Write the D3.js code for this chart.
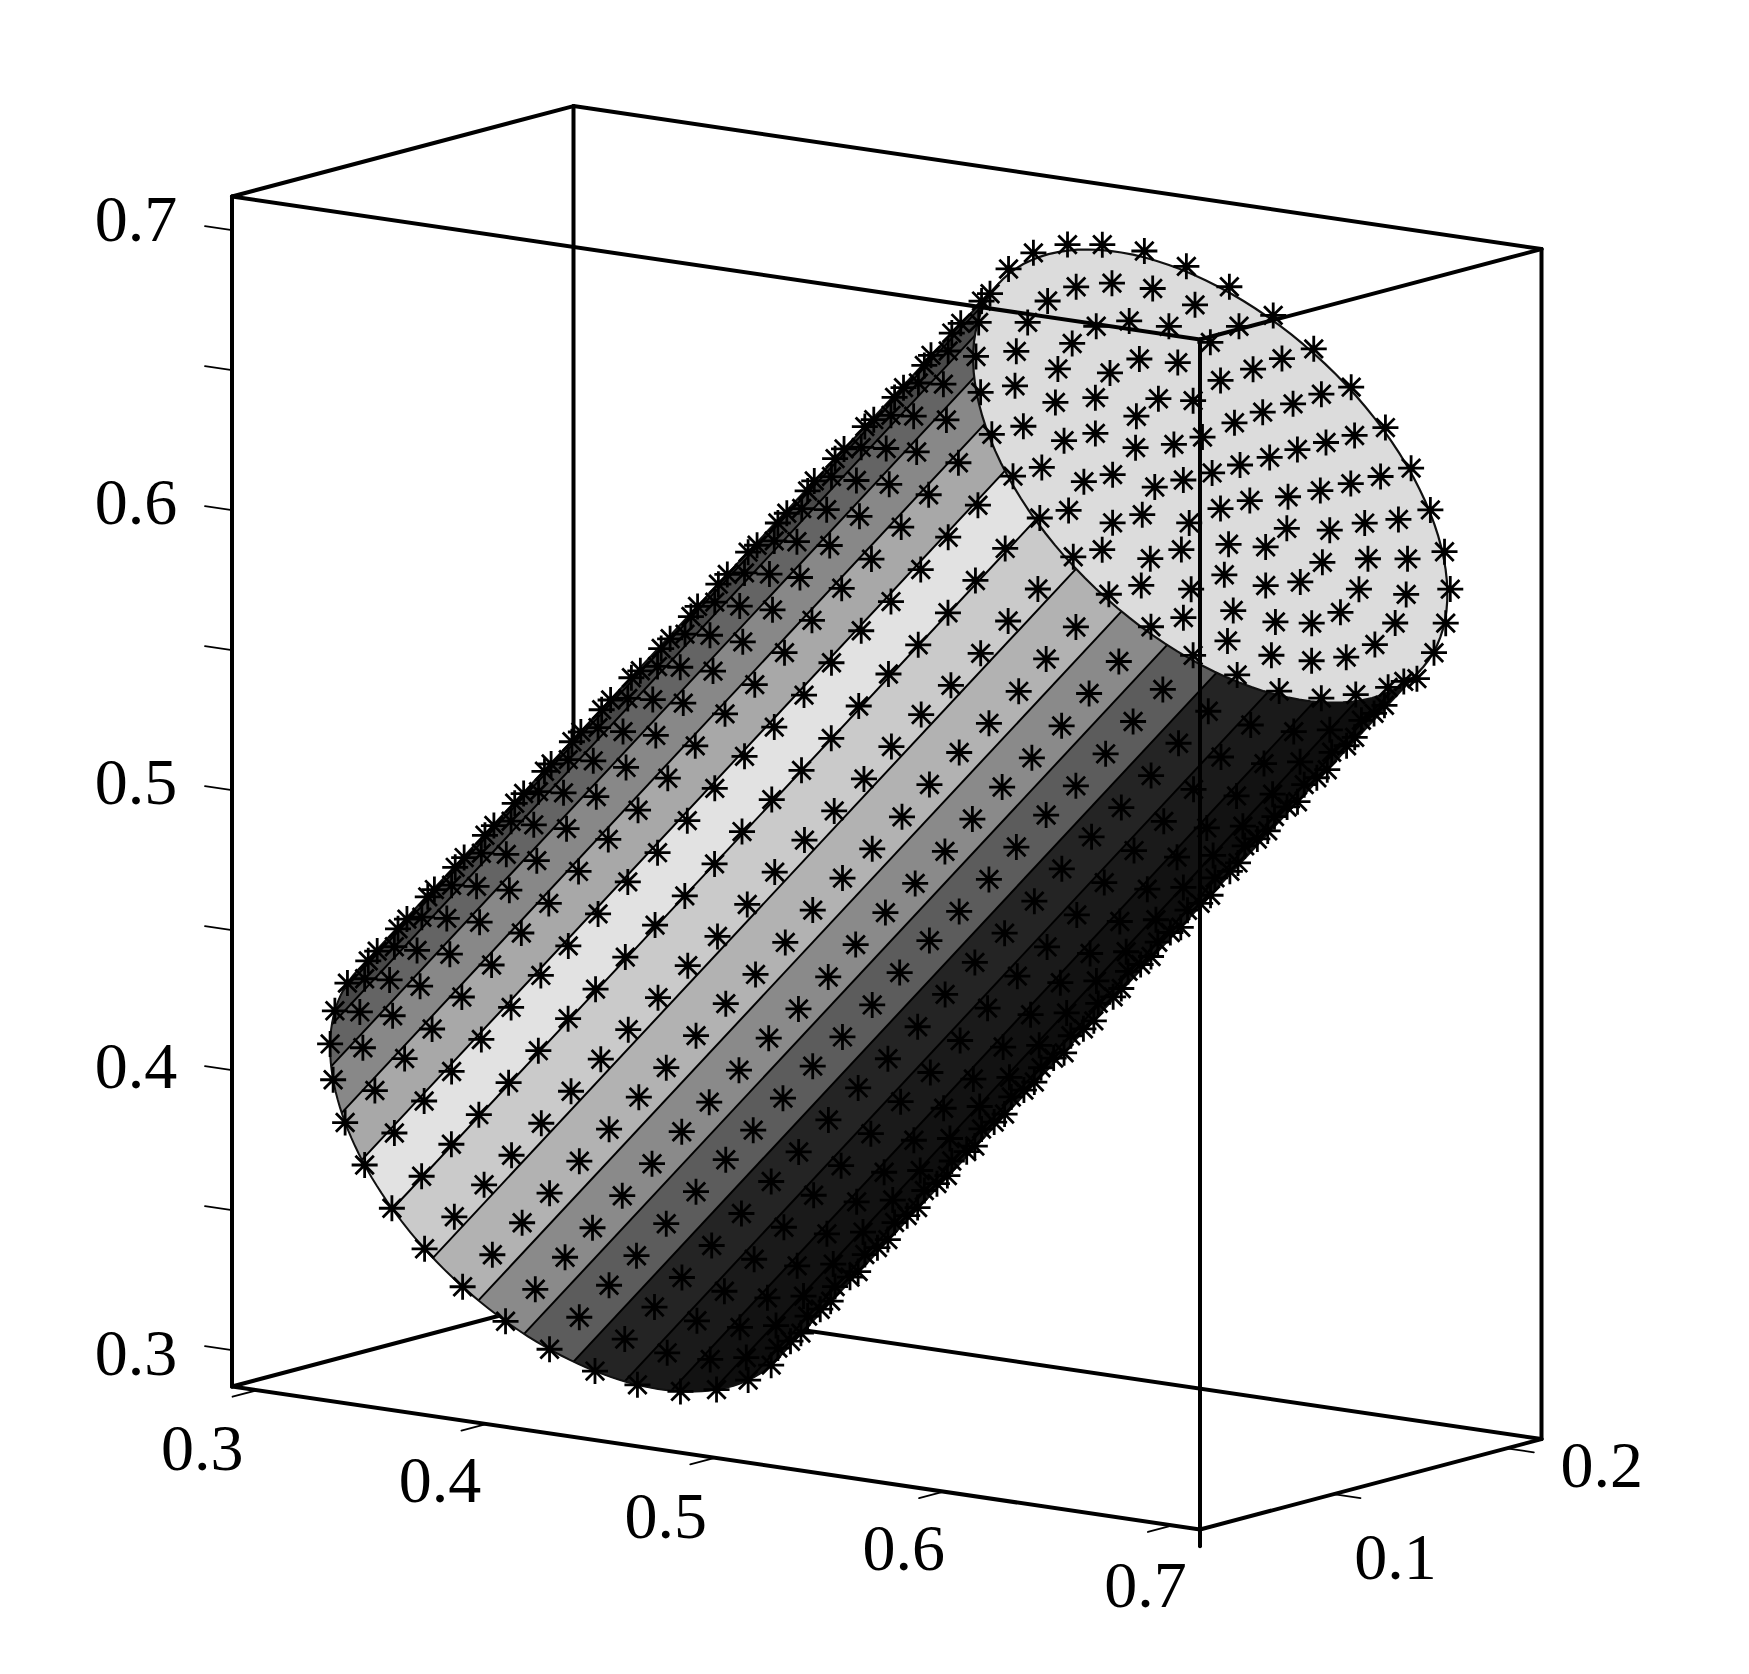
<!DOCTYPE html>
<html><head><meta charset="utf-8">
<script src="https://cdn.jsdelivr.net/npm/d3@7/dist/d3.min.js"></script>
<style>html,body{margin:0;background:#fff}svg{display:block}text{font-family:"Liberation Serif",serif;font-size:66px;fill:#000}</style>
</head><body><svg id="c" width="1749" height="1674"></svg>
<script>
// ---- data ----
const xTicks=[0.3,0.4,0.5,0.6,0.7];
const yTicks=[0.1,0.2];
const zTicks=[0.3,0.4,0.5,0.6,0.7];
const zMinorTicks=[0.35,0.45,0.55,0.65];
const xDomain=[0.289,0.712], yDomain=[0.023,0.22], zDomain=[0.287,0.712];
const radius=0.1, axisY=0.12;
// cylinder axis stations
const stationX=[.362,.375,.388,.400,.413,.426,.439,.451,.464,.477,.490,.503,.515,.528,.541,.554,.566,.579,.592,.605,.617,.630,.643];
const stationZ=[.359,.372,.385,.397,.410,.423,.436,.448,.461,.474,.486,.499,.512,.525,.537,.550,.563,.576,.588,.601,.614,.627,.639];
// mesh generators on the near side (degrees round the cylinder)
const nearAngles=[194,204.9,215.4,226,236.2,247.5,258.3,269.3,280,290.8,301.9,312.7,323.7,334.2,345.5,356,366.7,376.3,387.3];
// markers on the end disc: offset along the tilted in-plane axis and along y, as fractions of the radius
const discC=[-.984,-1.020,-1.017,-.982,-.916,-.816,-.696,-.544,-.377,-.195,-.008,.171,.348,.520,.667,.791,.891,.972,.976,.971,.950,.881,.778,.660,.510,.345,.168,-.012,-.197,-.376,-.546,-.686,-.812,-.909,
 -.824,-.849,-.827,-.766,-.662,-.537,-.372,-.198,-.009,.172,.352,.510,.643,.740,.801,.820,.799,.738,.640,.508,.344,.170,-.012,-.201,-.375,-.536,-.665,-.763,
 -.680,-.667,-.607,-.505,-.361,-.190,-.011,.169,.332,.470,.576,.645,.657,.616,.531,.408,.252,.079,-.105,-.280,-.433,-.557,-.639,
 -.513,-.461,-.351,-.189,-.013,.165,.324,.438,.490,.469,.387,.249,.078,-.103,-.276,-.411,-.490,
 -.344,-.302,-.177,-.011,.156,.274,.323,.276,.156,-.014,-.182,-.300,
 -.155,-.012,.132,.133,-.012,-.156,-.010];
const discS=[-.245,-.068,.126,.294,.475,.624,.760,.871,.949,.995,1.018,.999,.945,.866,.762,.620,.459,.285,.115,-.067,-.246,-.425,-.571,-.715,-.818,-.907,-.947,-.972,-.954,-.909,-.815,-.711,-.578,-.422,
 -.169,.019,.205,.383,.530,.667,.761,.826,.841,.822,.757,.662,.530,.376,.202,.019,-.161,-.336,-.498,-.629,-.719,-.782,-.806,-.784,-.728,-.626,-.498,-.341,
 -.023,.155,.328,.472,.584,.655,.678,.653,.581,.471,.320,.149,-.028,-.199,-.363,-.491,-.581,-.637,-.631,-.582,-.489,-.359,-.200,
 .070,.243,.387,.479,.515,.481,.387,.238,.062,-.118,-.280,-.399,-.465,-.467,-.405,-.279,-.121,
 .022,.183,.305,.353,.303,.186,.018,-.152,-.267,-.307,-.261,-.146,
 .100,.183,.105,-.065,-.144,-.064,.020];
// contour bands on the side of the cylinder
const bandEdges=[199.5,208,220,232.5,245,257,269.5,282.5,295,306.5,318.5,331,343,355,367,379.5];
const bandGrey=["#383838","#484848","#646464","#888888","#a8a8a8","#e2e2e2","#cacaca","#b2b2b2","#8a8a8a","#5c5c5c","#242424","#1a1a1a","#121212","#0e0e0e","#141414"];
const discGrey="#dcdcdc";

// ---- projection through scales ----
const sxX=d3.scaleLinear().domain(xDomain).range([232,1200]);
const syX=d3.scaleLinear().domain(xDomain).range([0,143]);
const sxY=d3.scaleLinear().domain(yDomain).range([0,341.5]);
const syY=d3.scaleLinear().domain(yDomain).range([0,-90.4]);
const syZ=d3.scaleLinear().domain(zDomain).range([1386.5,196.5]);
const P=(x,y,z)=>[sxX(x)+sxY(y), syZ(z)+syX(x)+syY(y)];
const rad=d=>d*Math.PI/180;
// point at axis station i with in-plane offsets (fractions of the radius)
const onDisc=(i,c,s)=>P(stationX[i]+c*radius*Math.SQRT1_2, axisY+s*radius, stationZ[i]-c*radius*Math.SQRT1_2);
const surf=(i,t)=>onDisc(i,Math.cos(rad(t)),Math.sin(rad(t)));
const last=stationX.length-1;
const line=d3.line();
const svg=d3.select("#c");
const [x0,x1]=xDomain,[y0,y1]=yDomain,[z0,z1]=zDomain;

// eight-armed marker as a d3 symbol type
const star={draw(ctx,size){const r=Math.sqrt(size);
  for(let a=0;a<4;a++){const q=a*Math.PI/4,dx=Math.sin(q)*r,dy=Math.cos(q)*r;
    ctx.moveTo(-dx,-dy);ctx.lineTo(dx,dy);}}};
const starPath=d3.symbol().type(star).size(13*13)();

// box edges behind the cylinder
const edge=(g,a,b,w=4)=>g.append("path").attr("d",line([a,b])).attr("stroke","#000").attr("stroke-width",w).attr("fill","none").attr("stroke-linecap","round");
const back=svg.append("g");
edge(back,P(x0,y1,z1),P(x1,y1,z1));
edge(back,P(x0,y1,z0),P(x1,y1,z0));
edge(back,P(x0,y1,z0),P(x0,y1,z1));
edge(back,P(x0,y0,z0),P(x0,y1,z0));
edge(back,P(x0,y0,z1),P(x0,y1,z1));

// cylinder side bands
const body=svg.append("g");
bandGrey.forEach((col,b)=>{
  const a0=bandEdges[b],a1=bandEdges[b+1];
  const arc=d3.range(a0,a1,2).concat([a1]);
  const pts=arc.map(t=>surf(0,t)).concat(arc.slice().reverse().map(t=>surf(last,t)));
  body.append("path").attr("d",line(pts)+"Z").attr("fill",col).attr("stroke",col).attr("stroke-width",.6);
});
// contour lines
bandEdges.slice(1,-1).forEach(t=>{
  body.append("path").attr("d",line([surf(0,t),surf(last,t)])).attr("stroke","#000").attr("stroke-width",2).attr("fill","none");
});
// silhouette and lower rim
const rim=d3.range(199.5,380,2).concat([379.5]);
body.append("path").attr("d",line(rim.map(t=>surf(0,t)))).attr("stroke","#111").attr("stroke-width",2).attr("fill","none");
[199.5,379.5].forEach(t=>body.append("path").attr("d",line([surf(0,t),surf(last,t)])).attr("stroke","#111").attr("stroke-width",2));
// end disc
const discEdge=d3.range(0,360,3).map(t=>surf(last,t));
body.append("path").attr("d",line(discEdge)+"Z").attr("fill",discGrey).attr("stroke","#111").attr("stroke-width",2.2);

// markers
const marks=[];
stationX.forEach((_,i)=>{ if(i<last) nearAngles.forEach(t=>marks.push(surf(i,t))); });
discC.forEach((c,k)=>marks.push(onDisc(last,c,discS[k])));
svg.append("g").selectAll("path").data(marks).join("path")
  .attr("d",starPath).attr("transform",d=>`translate(${d[0]},${d[1]})`)
  .attr("stroke","#000").attr("stroke-width",2.8).attr("fill","none");

// box edges in front
const front=svg.append("g");
edge(front,P(x0,y0,z1),P(x1,y0,z1));
edge(front,P(x1,y0,z1),P(x1,y1,z1));
edge(front,P(x0,y0,z0),P(x1,y0,z0));
edge(front,P(x1,y0,z0),P(x1,y1,z0));
edge(front,P(x0,y0,z0),P(x0,y0,z1));
edge(front,P(x1,y0,z1),P(x1,y0,z0-0.006));
edge(front,P(x1,y1,z1),P(x1,y1,z0));

// ticks
const ticks=svg.append("g");
const tk=(a,b)=>edge(ticks,a,b,1.8);
const zTickLen=0.0118, xTickLen=0.0142, yTickLen=0.0118;
zTicks.concat(zMinorTicks).forEach(z=>tk(P(x0,y0,z),P(x0-zTickLen,y0,z)));
xTicks.forEach(x=>tk(P(x,y0,z0),P(x,y0-xTickLen,z0)));
yTicks.forEach(y=>tk(P(x1,y,z0),P(x1+yTickLen,y,z0)));

// labels
const labels=svg.append("g");
const put=(p,dx,dy,s)=>labels.append("text").attr("x",p[0]+dx).attr("y",p[1]+dy).attr("text-anchor","middle").text(s);
const zNudge=[25,18,14,14,11], xNudge=[[-55,80],[-46,78],[-49,80],[-40,78],[-27,82]], yNudge=[[62,85],[95,39]];
zTicks.forEach((z,i)=>put(P(x0,y0,z),-96,zNudge[i],z.toFixed(1)));
xTicks.forEach((x,i)=>put(P(x,y0,z0),xNudge[i][0],xNudge[i][1],x.toFixed(1)));
yTicks.forEach((y,i)=>put(P(x1,y,z0),yNudge[i][0],yNudge[i][1],y.toFixed(1)));
</script></body></html>
